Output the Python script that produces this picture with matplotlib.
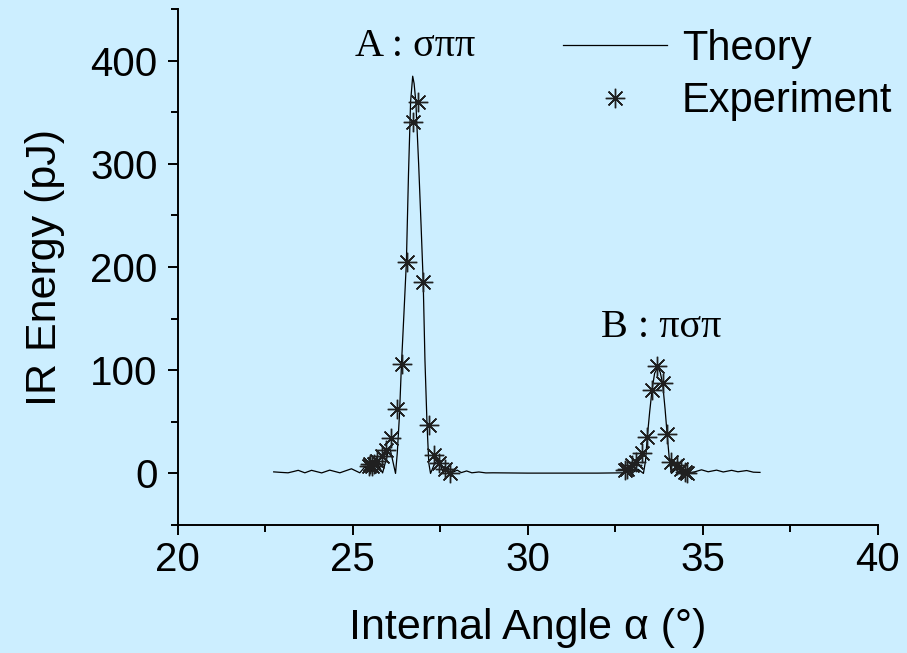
import matplotlib
matplotlib.use('Agg')
import matplotlib.pyplot as plt
from matplotlib.ticker import MultipleLocator

plt.rcParams['font.family'] = ['Liberation Sans', 'DejaVu Sans']

# theory curve
theory_x = [22.74, 22.95, 23.15, 23.30, 23.44, 23.63, 23.82, 24.11, 24.34, 24.63, 24.96, 25.20,
            25.35, 25.50, 25.68, 25.85, 26.05, 26.22, 26.27, 26.33, 26.39, 26.46, 26.53, 26.59,
            26.65, 26.71, 26.75, 26.80, 26.88, 26.95, 27.01, 27.06, 27.12, 27.17, 27.22, 27.33,
            27.44, 27.58, 27.72, 27.85, 27.98, 28.10, 28.25, 28.40, 28.60, 28.80, 29.00, 30.00,
            31.00, 32.00, 32.50, 32.70, 32.88, 33.00, 33.15, 33.30, 33.36, 33.41, 33.48, 33.55,
            33.62, 33.71, 33.78, 33.85, 33.92, 33.98, 34.04, 34.10, 34.22, 34.35, 34.48, 34.60,
            34.71, 34.96, 35.15, 35.39, 35.58, 35.82, 36.00, 36.25, 36.44, 36.63]
theory_y = [1.5, 1.0, 0.6, 1.8, 3.0, 0.6, 3.0, 0.5, 3.2, 0.6, 4.5, 0.6,
            6.5, 0.5, 11.0, 0.5, 26.0, 0.0, 20.0, 55.0, 106.0, 155.0, 205.0, 290.0,
            360.0, 385.0, 378.0, 360.0, 300.0, 240.0, 186.0, 110.0, 47.0, 10.0, 0.0, 9.0,
            13.5, 1.0, 5.0, 1.0, 3.2, 0.8, 2.4, 0.6, 1.4, 0.5, 0.6, 0.3,
            0.3, 0.3, 0.5, 0.6, 2.5, 1.0, 4.0, 0.0, 12.0, 35.0, 60.0, 82.0,
            97.0, 103.0, 98.0, 87.0, 62.0, 37.0, 14.0, 0.0, 4.0, 0.5, 2.5, 0.5,
            1.0, 3.5, 1.6, 3.2, 1.4, 3.0, 1.6, 2.8, 1.2, 1.0]

exp_x = [25.45, 25.50, 25.55, 25.60, 25.68, 25.82, 25.96, 26.10, 26.27, 26.41, 26.56, 26.72,
         26.87, 27.01, 27.17, 27.32, 27.47, 27.63, 27.77,
         32.78, 32.84, 32.96, 33.10, 33.27, 33.41, 33.55, 33.69, 33.85, 33.98, 34.10, 34.25,
         34.36, 34.49, 34.55]
exp_y = [7, 9, 7, 9, 12, 17, 23, 34, 62, 106, 205, 341,
         360, 186, 47, 18, 10, 4, 0,
         3, 4, 8, 11, 20, 35, 81, 104, 88, 38, 11, 8,
         4, 1, 0]

peak_labels = ['A : σππ', 'B : πσπ']
peak_pos = [(26.77, 414), (33.8, 141)]

bg = '#cceeff'
fig = plt.figure(figsize=(9.07, 6.53), dpi=100, facecolor=bg)
ax = fig.add_axes([0.196, 0.196, 0.772, 0.790])
ax.set_facecolor(bg)

ax.plot(theory_x, theory_y, color='black', lw=0.9, label='Theory')
ax.plot(exp_x, exp_y, ls='none', marker=(8, 2, 0), ms=14, mec='#202020', mew=1.0,
        color='black', label='Experiment')

for txt, (px, py) in zip(peak_labels, peak_pos):
    ax.text(px, py, txt, ha='center', va='center', fontsize=29, family='Liberation Serif')

ax.set_xlim(20, 40)
ax.set_ylim(-50, 450)
ax.xaxis.set_major_locator(MultipleLocator(5))
ax.xaxis.set_minor_locator(MultipleLocator(2.5))
ax.yaxis.set_major_locator(MultipleLocator(100))
ax.yaxis.set_minor_locator(MultipleLocator(50))
ax.tick_params(which='major', direction='out', length=7.5, width=1.4, labelsize=29)
ax.tick_params(which='minor', direction='out', length=5, width=1.4)
ax.tick_params(axis='y', pad=7)
ax.tick_params(axis='x', pad=4)
for s in ['top', 'right']:
    ax.spines[s].set_visible(False)
for s in ['left', 'bottom']:
    ax.spines[s].set_linewidth(1.4)

ax.set_xlabel('Internal Angle α (°)', fontsize=31, labelpad=21)
ax.set_ylabel('IR Energy (pJ)', fontsize=31, labelpad=18)

fig.legend(*ax.get_legend_handles_labels(), loc='upper left',
           bbox_to_anchor=(0.621, 0.956), frameon=False, fontsize=30,
           handlelength=2.5, handletextpad=0.35, labelspacing=0.3,
           borderpad=0, borderaxespad=0)

fig.savefig('out.png', dpi=100, facecolor=bg)
